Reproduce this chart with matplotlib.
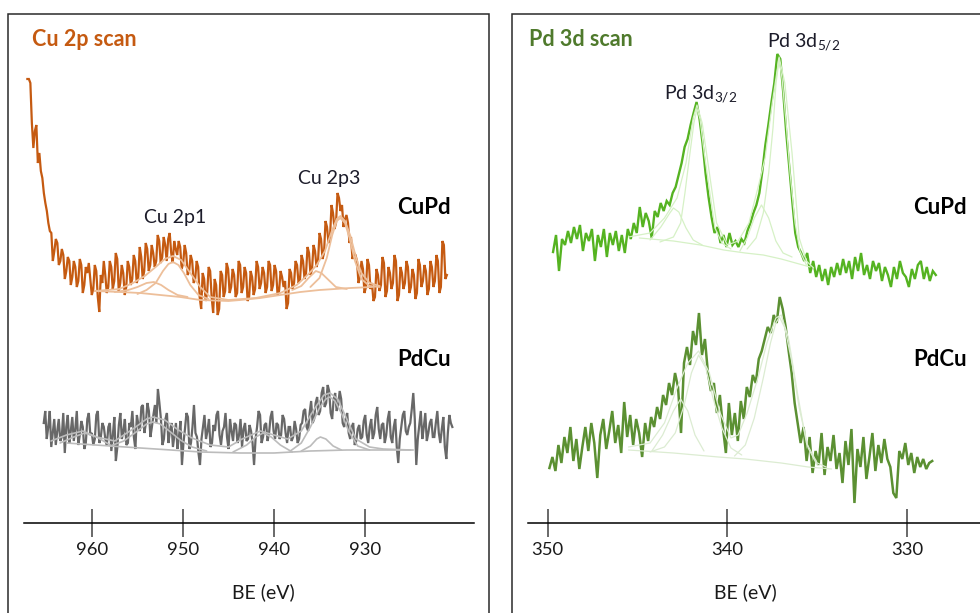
import numpy as np
import matplotlib
matplotlib.use("Agg")
import matplotlib.pyplot as plt
from matplotlib.patches import Rectangle

plt.rcParams["font.family"] = ["Lato", "DejaVu Sans"]
plt.rcParams["mathtext.fontset"] = "custom"
plt.rcParams["mathtext.rm"] = "Lato"

# ---- Cu 2p region: raw spectra (intensity, a.u.) on an even BE grid ----
cu_cupd_be = (967.1, 921.0)
cu_cupd_counts = [
    444, 444, 440, 400, 375, 392, 398, 360, 370, 352, 345, 330, 320, 312, 300, 292, 290, 262, 272, 284,
    280, 258, 262, 274, 268, 244, 252, 266, 262, 238, 246, 262, 256, 236, 242, 264, 258, 230, 238, 256,
    250, 260, 244, 228, 234, 258, 252, 226, 211, 248, 240, 262, 248, 230, 236, 262, 256, 234, 242, 270,
    264, 232, 240, 258, 250, 228, 236, 262, 256, 238, 244, 268, 262, 240, 246, 276, 266, 244, 252, 280,
    274, 252, 258, 278, 270, 256, 262, 288, 282, 260, 266, 286, 278, 262, 284, 290, 270, 260, 282, 274,
    268, 282, 276, 254, 260, 278, 270, 248, 252, 268, 262, 240, 244, 262, 256, 226, 214, 250, 244, 222,
    230, 256, 252, 226, 210, 244, 238, 208, 214, 252, 248, 226, 232, 260, 254, 230, 236, 254, 248, 226,
    230, 262, 258, 230, 236, 256, 250, 222, 226, 252, 246, 228, 234, 262, 256, 234, 240, 256, 250, 230,
    236, 262, 258, 232, 238, 258, 252, 228, 232, 252, 246, 236, 242, 214, 220, 254, 250, 234, 240, 262,
    258, 240, 244, 268, 262, 244, 250, 276, 270, 248, 254, 278, 272, 256, 262, 290, 284, 264, 270, 302,
    296, 280, 286, 318, 310, 294, 300, 330, 325, 312, 318, 296, 304, 308, 300, 280, 286, 264, 270, 268,
    262, 240, 246, 262, 254, 230, 236, 264, 258, 234, 240, 222, 226, 254, 248, 232, 238, 266, 260, 226,
    232, 256, 250, 234, 240, 268, 262, 222, 228, 256, 250, 234, 240, 262, 256, 230, 236, 254, 248, 224,
    230, 264, 258, 236, 242, 258, 252, 228, 234, 262, 256, 236, 242, 268, 262, 230, 236, 282, 278, 244,
    248,
]

cu_pdcu_be = (965.3, 920.4)
cu_pdcu_counts = [
    100, 112, 84, 96, 112, 76, 90, 104, 78, 92, 104, 82, 86, 110, 70, 96, 108, 80, 92, 106,
    82, 94, 112, 78, 88, 102, 96, 74, 80, 104, 110, 88, 90, 78, 84, 108, 112, 80, 86, 100,
    96, 84, 78, 96, 100, 72, 88, 106, 62, 76, 98, 110, 84, 92, 104, 78, 80, 100, 96, 112,
    86, 74, 108, 98, 92, 116, 118, 90, 100, 120, 112, 86, 96, 108, 118, 100, 134, 120, 104, 78,
    84, 104, 110, 80, 92, 100, 76, 88, 100, 74, 86, 102, 58, 80, 94, 110, 106, 74, 80, 96,
    118, 90, 86, 70, 58, 84, 96, 108, 84, 92, 104, 76, 80, 98, 92, 108, 112, 88, 78, 92,
    96, 110, 86, 74, 104, 92, 82, 100, 98, 80, 88, 104, 76, 94, 100, 82, 84, 98, 92, 80,
    58, 84, 96, 112, 108, 80, 86, 98, 100, 82, 90, 106, 112, 92, 84, 100, 98, 84, 88, 108,
    104, 90, 80, 96, 96, 82, 86, 102, 94, 80, 84, 98, 100, 112, 114, 96, 92, 110, 122, 100,
    104, 120, 126, 108, 112, 130, 136, 116, 120, 138, 132, 110, 104, 124, 130, 112, 118, 132, 124, 100,
    96, 104, 110, 90, 84, 96, 100, 78, 82, 94, 98, 84, 86, 102, 108, 88, 80, 96, 104, 84,
    90, 108, 116, 94, 84, 98, 100, 80, 88, 104, 112, 86, 80, 96, 104, 76, 60, 84, 96, 108,
    112, 92, 88, 96, 100, 114, 130, 104, 58, 84, 98, 112, 84, 96, 110, 82, 90, 100, 104, 86,
    86, 100, 112, 90, 80, 94, 106, 76, 64, 90, 108, 100, 96,
]

# fitted components (BE, intensity)
cu_cupd_bg_be = [959.7, 956.9, 954.7, 952.5, 950.3, 948.1, 945.0, 943.7, 941.5, 939.3, 937.1, 935.0, 933.3, 931.6, 929.2]
cu_cupd_bg = [232, 231, 230, 228, 226, 223, 222, 223, 225, 228, 231, 233, 234, 235, 236]
cu_cupd_sat_be = [957.5, 956.0, 955.0, 954.0, 953.2, 952.4, 951.6, 950.6, 949.5]
cu_cupd_sat = [231, 233, 236, 240, 241, 238, 233, 228, 226]
cu_cupd_2p1_be = [955.0, 954.0, 953.0, 952.2, 951.6, 951.1, 950.5, 949.9, 949.2, 948.3, 947.2]
cu_cupd_2p1 = [229, 233, 240, 252, 259, 261, 258, 250, 238, 228, 224]
cu_cupd_sh_be = [938.0, 937.0, 936.2, 935.4, 934.8, 934.0, 933.2, 932.0]
cu_cupd_sh = [233, 237, 245, 252, 250, 243, 236, 234]
cu_cupd_2p3_be = [936.0, 935.0, 934.2, 933.6, 933.1, 932.7, 932.2, 931.7, 931.1, 930.4, 929.5, 928.4]
cu_cupd_2p3 = [236, 245, 265, 288, 302, 305, 300, 285, 262, 244, 237, 236]
cu_cupd_env_be = [959.7, 957.0, 955.5, 954.2, 953.0, 952.0, 951.1, 950.2, 949.2, 948.1, 947.0, 945.0, 942.0,
                  939.3, 937.5, 936.2, 935.3, 934.4, 933.6, 933.1, 932.7, 932.2, 931.6, 931.0, 930.4, 929.5, 928.4]
cu_cupd_env = [232, 234, 240, 247, 256, 264, 267, 263, 250, 236, 226, 223, 225,
               230, 238, 249, 258, 272, 293, 304, 307, 302, 287, 266, 250, 240, 237]

cu_pdcu_bg_be = [962.8, 958.0, 953.0, 948.0, 943.7, 940.0, 936.0, 932.0, 928.4, 924.7]
cu_pdcu_bg = [80, 77, 74, 71, 70, 70, 72, 73, 73, 73]
cu_pdcu_sat1_be = [963.5, 962.0, 960.8, 959.5, 958.0]
cu_pdcu_sat1 = [80, 86, 90, 86, 78]
cu_pdcu_2p1_be = [958.0, 956.5, 955.0, 954.0, 953.3, 952.5, 951.5, 950.3, 949.0, 947.4]
cu_pdcu_2p1 = [77, 82, 92, 99, 101, 99, 92, 83, 76, 72]
cu_pdcu_sat2_be = [944.5, 943.0, 942.0, 941.2, 940.3, 939.3, 938.0]
cu_pdcu_sat2 = [71, 78, 86, 90, 86, 78, 71]
cu_pdcu_sh_be = [937.0, 936.0, 935.3, 934.9, 934.3, 933.5, 932.6]
cu_pdcu_sh = [72, 77, 84, 86, 84, 77, 73]
cu_pdcu_2p3_be = [938.2, 937.0, 936.0, 935.0, 934.3, 933.85, 933.3, 932.6, 931.8, 930.8, 929.5]
cu_pdcu_2p3 = [72, 80, 96, 115, 124, 126, 122, 110, 92, 77, 73]
cu_pdcu_env_be = [964.5, 962.8, 961.0, 959.5, 957.5, 955.5, 954.0, 953.3, 952.0, 950.5, 949.0, 947.0, 945.0, 943.5,
                  941.5, 940.0, 938.5, 937.0, 935.5, 934.5, 933.85, 933.0, 932.0, 931.0, 929.5, 928.0, 925.0]
cu_pdcu_env = [82, 88, 92, 86, 82, 94, 104, 106, 103, 93, 85, 78, 76, 84,
               92, 88, 84, 92, 115, 128, 130, 124, 104, 84, 76, 74, 73]

# ---- Pd 3d region ----
pd_cupd_be = (349.7, 328.4)
pd_cupd_counts = [
    271, 288, 252, 284, 278, 292, 280, 296, 284, 298,
    272, 290, 282, 294, 262, 288, 276, 294, 266, 290,
    278, 292, 272, 288, 270, 294, 284, 300, 290, 316,
    296, 310, 302, 285, 312, 306, 320, 312, 322, 318,
    330, 336, 348, 360, 376, 384, 398, 410, 421, 404,
    380, 350, 326, 306, 290, 296, 280, 288, 276, 290,
    278, 282, 276, 284, 280, 292, 300, 310, 318, 330,
    352, 378, 398, 420, 440, 469, 464, 430, 390, 356,
    322, 290, 276, 270, 262, 270, 250, 262, 246, 258,
    242, 254, 238, 256, 246, 260, 248, 264, 250, 262,
    244, 266, 252, 270, 248, 258, 244, 262, 252, 260,
    242, 256, 248, 236, 256, 244, 262, 250, 246, 236,
    254, 244, 258, 262, 244, 256, 242, 252, 248,
]

pd_pdcu_be = (349.9, 328.6)
pd_pdcu_counts = [
    55, 66, 52, 78, 60, 86, 70, 96, 62, 84,
    54, 76, 96, 72, 100, 80, 45, 88, 104, 74,
    92, 112, 80, 98, 70, 121, 86, 108, 78, 104,
    90, 66, 100, 82, 106, 96, 116, 104, 128, 118,
    140, 128, 150, 136, 90, 160, 176, 158, 192, 178,
    210, 168, 184, 150, 132, 140, 110, 128, 96, 70,
    120, 88, 110, 82, 122, 104, 136, 126, 148, 140,
    164, 172, 184, 196, 190, 208, 200, 226, 214, 196,
    172, 150, 120, 100, 80, 96, 62, 86, 50, 72,
    58, 90, 48, 76, 62, 88, 54, 70, 40, 82,
    58, 94, 20, 74, 56, 86, 44, 66, 90, 52,
    78, 60, 84, 64, 56, 30, 25, 72, 64, 80,
    58, 70, 50, 66, 56, 64, 54, 60, 62,
]

pd_cupd_bg_be = [344.9, 343.0, 341.5, 340.2, 339.0, 338.0, 337.0, 336.0, 335.4]
pd_cupd_bg = [285, 282, 278, 273, 270, 268, 264, 259, 256]
pd_cupd_sh1_be = [344.3, 343.7, 343.2, 343.0, 342.7, 342.3, 341.9, 341.4]
pd_cupd_sh1 = [283, 296, 310, 315, 311, 295, 283, 278]
pd_cupd_32_be = [343.75, 343.0, 342.6, 342.36, 342.08, 341.86, 341.69, 341.52, 341.3, 340.97, 340.69, 340.3, 339.8]
pd_cupd_32 = [281, 286, 300, 330, 370, 400, 414, 404, 372, 330, 295, 280, 274]
pd_cupd_sh2_be = [339.3, 338.9, 338.5, 338.1, 337.7, 337.3, 336.9, 336.4]
pd_cupd_sh2 = [272, 285, 305, 318, 305, 282, 270, 266]
pd_cupd_52_be = [338.9, 338.4, 338.0, 337.7, 337.46, 337.29, 337.12, 336.96, 336.73, 336.51, 336.23, 335.96, 335.6]
pd_cupd_52 = [274, 285, 310, 350, 395, 440, 463, 445, 400, 350, 300, 272, 258]
pd_cupd_env_be = [345.5, 344.3, 343.5, 342.8, 342.3, 341.9, 341.69, 341.4, 341.0, 340.6, 340.0,
                  339.4, 338.8, 338.3, 337.9, 337.5, 337.12, 336.8, 336.4, 336.0, 335.6, 335.2]
pd_cupd_env = [286, 290, 305, 325, 360, 405, 418, 400, 350, 300, 278,
               282, 300, 335, 365, 420, 466, 440, 370, 285, 262, 255]

pd_pdcu_bg_be = [345.5, 343.0, 340.5, 339.0, 337.0, 335.5, 334.2]
pd_pdcu_bg = [73, 70, 66, 64, 60, 56, 54]
pd_pdcu_sh1_be = [344.2, 343.6, 343.0, 342.6, 342.2, 341.8, 341.3]
pd_pdcu_sh1 = [72, 88, 112, 124, 112, 88, 72]
pd_pdcu_32_be = [344.3, 343.5, 342.9, 342.4, 342.0, 341.6, 341.2, 340.8, 340.3, 339.8, 339.2]
pd_pdcu_32 = [71, 76, 90, 118, 150, 168, 155, 125, 95, 75, 68]
pd_pdcu_52_be = [339.6, 339.0, 338.5, 338.0, 337.6, 337.3, 337.1, 336.8, 336.4, 336.0, 335.5, 335.0]
pd_pdcu_52 = [67, 78, 105, 145, 180, 200, 206, 195, 160, 115, 75, 58]
pd_pdcu_env_be = [345.5, 344.3, 343.5, 342.8, 342.2, 341.6, 341.0, 340.4, 339.8, 339.4,
                  338.9, 338.3, 337.8, 337.3, 337.0, 336.6, 336.1, 335.6, 335.0, 334.5]
pd_pdcu_env = [76, 80, 100, 135, 160, 172, 150, 110, 85, 88,
               110, 145, 180, 205, 208, 185, 130, 80, 60, 56]

cu_ticks = [960, 950, 940, 930]
pd_ticks = [350, 340, 330]

W, H = 980, 613
fig = plt.figure(figsize=(W / 100, H / 100), dpi=100)
fig.patch.set_facecolor("white")


def px(x, y):
    return x / W, 1 - y / H


def make_axes(x0, x1, xlim, ticks):
    ax = fig.add_axes([x0 / W, (H - 523) / H, (x1 - x0) / W, 503 / H])
    ax.set_xlim(*xlim)
    ax.set_ylim(0, 503)
    ax.patch.set_alpha(0)
    for s in ("left", "right", "top"):
        ax.spines[s].set_visible(False)
    ax.spines["bottom"].set_linewidth(1.1)
    ax.spines["bottom"].set_color("black")
    ax.set_yticks([])
    ax.set_xticks(ticks)
    ax.tick_params(axis="x", direction="inout", length=20, width=1.1,
                   color="#404040", labelsize=13.3, pad=4, labelcolor="#1a1a1a")
    return ax


def spectrum(ax, be, counts, color, lw=1.6):
    x = np.linspace(be[0], be[1], len(counts))
    ax.plot(x, counts, color=color, lw=lw, zorder=2, solid_joinstyle="miter")


def fit_lines(ax, parts, color, lw=1.1):
    for be, vals in parts:
        ax.plot(be, vals, color=color, lw=lw, zorder=3, solid_capstyle="round")


# panel frames
fig.add_artist(Rectangle(px(8, 640), (489 - 8) / W, (640 - 14) / H, transform=fig.transFigure,
                         fill=False, ec="#2a2a2a", lw=1.1))
fig.add_artist(Rectangle(px(511.5, 640), 0.6, (640 - 14) / H, transform=fig.transFigure,
                         fill=False, ec="#2a2a2a", lw=1.1))

# ---- Cu 2p panel ----
ax1 = make_axes(24, 474, (967.47, 918.02), cu_ticks)
spectrum(ax1, cu_cupd_be, cu_cupd_counts, "#c55a11", lw=1.6)
fit_lines(ax1, [(cu_cupd_bg_be, cu_cupd_bg), (cu_cupd_sat_be, cu_cupd_sat),
                (cu_cupd_2p1_be, cu_cupd_2p1), (cu_cupd_sh_be, cu_cupd_sh),
                (cu_cupd_2p3_be, cu_cupd_2p3), (cu_cupd_env_be, cu_cupd_env)], "#edbf9a", lw=1.3)
spectrum(ax1, cu_pdcu_be, cu_pdcu_counts, "#686868", lw=1.6)
fit_lines(ax1, [(cu_pdcu_bg_be, cu_pdcu_bg), (cu_pdcu_sat1_be, cu_pdcu_sat1),
                (cu_pdcu_2p1_be, cu_pdcu_2p1), (cu_pdcu_sat2_be, cu_pdcu_sat2),
                (cu_pdcu_sh_be, cu_pdcu_sh), (cu_pdcu_2p3_be, cu_pdcu_2p3),
                (cu_pdcu_env_be, cu_pdcu_env)], "#bcbcbc", lw=1.2)
ax1.text(954.29, 300, "Cu 2p1", fontsize=14, color="#1c1c2a", ha="left", va="baseline")
ax1.text(937.36, 339, "Cu 2p3", fontsize=14, color="#1c1c2a", ha="left", va="baseline")

# ---- Pd 3d panel ----
ax2 = make_axes(527.7, 980, (351.11, 325.94), pd_ticks)
spectrum(ax2, pd_cupd_be, pd_cupd_counts, "#55b321", lw=1.7)
fit_lines(ax2, [(pd_cupd_bg_be, pd_cupd_bg), (pd_cupd_sh1_be, pd_cupd_sh1),
                (pd_cupd_32_be, pd_cupd_32), (pd_cupd_sh2_be, pd_cupd_sh2),
                (pd_cupd_52_be, pd_cupd_52), (pd_cupd_env_be, pd_cupd_env)], "#d6f1c6", lw=0.9)
spectrum(ax2, pd_pdcu_be, pd_pdcu_counts, "#5b9032", lw=1.8)
fit_lines(ax2, [(pd_pdcu_bg_be, pd_pdcu_bg), (pd_pdcu_sh1_be, pd_pdcu_sh1),
                (pd_pdcu_32_be, pd_pdcu_32), (pd_pdcu_52_be, pd_pdcu_52),
                (pd_pdcu_env_be, pd_pdcu_env)], "#dcecd2", lw=0.9)
ax2.text(343.53, 424, r"Pd 3d$_{\mathregular{3/2}}$", fontsize=14, color="#1c1c2a", ha="left", va="baseline")
ax2.text(337.79, 476, r"Pd 3d$_{\mathregular{5/2}}$", fontsize=14, color="#1c1c2a", ha="left", va="baseline")

# panel titles, sample names and axis titles
fig.text(*px(32, 40), "Cu 2p scan", fontsize=15.5, fontweight="bold", color="#c55a11", va="center")
fig.text(*px(529, 40), "Pd 3d scan", fontsize=15.5, fontweight="bold", color="#4f7a2c", va="center")
for x0 in (397, 913):
    fig.text(*px(x0, 208), "CuPd", fontsize=16, fontweight="bold", color="black", va="center")
    fig.text(*px(x0, 359), "PdCu", fontsize=16, fontweight="bold", color="black", va="center")
fig.text(*px(263, 592), "BE (eV)", fontsize=14, color="#1a1a1a", ha="center", va="center")
fig.text(*px(745, 592), "BE (eV)", fontsize=14, color="#1a1a1a", ha="center", va="center")

fig.savefig("out.png", dpi=100, facecolor="white")
